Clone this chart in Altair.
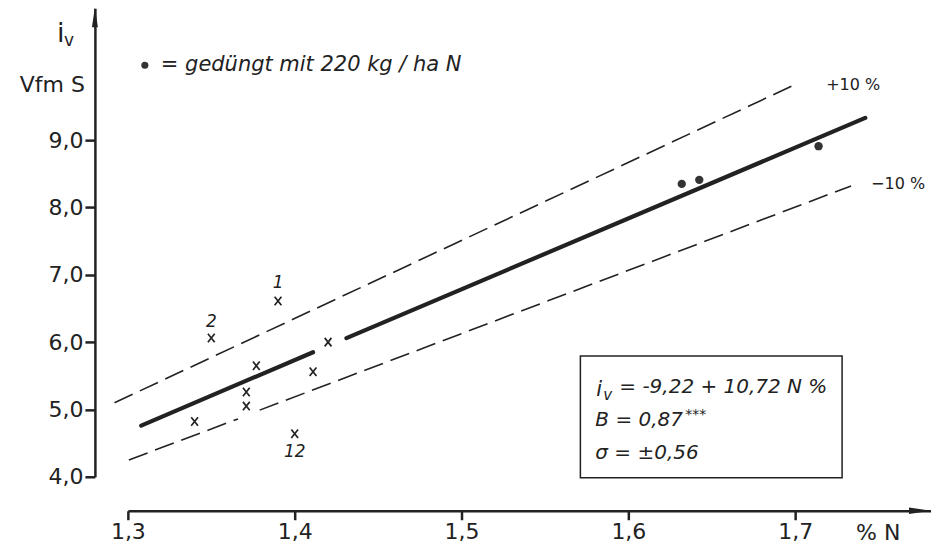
import altair as alt
import pandas as pd

# ---------------- data ----------------
cross_n = [1.340, 1.350, 1.371, 1.371, 1.377, 1.390, 1.400, 1.411, 1.420]
cross_iv = [4.82, 6.06, 5.05, 5.26, 5.65, 6.61, 4.64, 5.56, 6.00]

fert_n = [1.632, 1.6425, 1.714]
fert_iv = [8.35, 8.41, 8.91]

label_n = [1.350, 1.390, 1.400]
label_iv = [6.30, 6.88, 4.37]
label_text = ["2", "1", "12"]

reg_seg = ["a", "a", "b", "b"]
reg_n = [1.308, 1.411, 1.431, 1.742]
reg_iv = [4.76, 5.85, 6.06, 9.33]

band_seg = ["up", "up", "lo1", "lo1", "lo2", "lo2"]
band_n = [1.292, 1.702, 1.3006, 1.366, 1.379, 1.7335]
band_iv = [5.10, 9.85, 4.25, 4.86, 4.99, 8.32]

band_lbl_n = [1.7186, 1.7455]
band_lbl_iv = [9.82, 8.35]
band_lbl_text = ["+10 %", "\u221210 %"]

x_ticks = [1.3, 1.4, 1.5, 1.6, 1.7]
y_ticks = [4.0, 5.0, 6.0, 7.0, 8.0, 9.0]

# ---------------- layout constants ----------------
X_MIN, X_MAX = 1.3, 1.7814
Y_MIN, Y_MAX = 4.0, 10.958
W, H = 804, 469
INK = "#222222"
FONT = "DejaVu Sans"

crosses = pd.DataFrame({"n": cross_n, "iv": cross_iv})
fert = pd.DataFrame({"n": fert_n, "iv": fert_iv})
labels = pd.DataFrame({"n": label_n, "iv": label_iv, "t": label_text})
reg = pd.DataFrame({"seg": reg_seg, "n": reg_n, "iv": reg_iv})
band = pd.DataFrame({"seg": band_seg, "n": band_n, "iv": band_iv})
band_lbl = pd.DataFrame({"n": band_lbl_n, "iv": band_lbl_iv, "t": band_lbl_text})

fmt = "replace(format(datum.value, '.1f'), '.', ',')"
xs = alt.Scale(domain=[X_MIN, X_MAX], nice=False, zero=False)
ys = alt.Scale(domain=[Y_MIN, Y_MAX], nice=False, zero=False)

x_axis = alt.Axis(values=x_ticks, labelExpr=fmt, title=None, grid=False, offset=34,
                  domainWidth=2.5, domainColor=INK, tickWidth=2.5, tickColor=INK,
                  tickSize=9, labelFontSize=22, labelFont=FONT, labelColor=INK,
                  labelPadding=2, labelFlush=False)
y_axis = alt.Axis(values=y_ticks, labelExpr=fmt, title=None, grid=False, offset=33,
                  domainWidth=2.5, domainColor=INK, tickWidth=2.5, tickColor=INK,
                  tickSize=10, labelFontSize=22, labelFont=FONT, labelColor=INK,
                  labelPadding=2, labelFlush=False)


def X():
    return alt.X("n:Q", scale=xs, axis=x_axis)


def Y():
    return alt.Y("iv:Q", scale=ys, axis=y_axis)


one = alt.Data(values=[{}])


def txt(text, x, y, size, italic=False, align="left", baseline="middle"):
    return alt.Chart(one).mark_text(
        text=text, font=FONT, fontSize=size, color=INK, align=align, baseline=baseline,
        fontStyle="italic" if italic else "normal"
    ).encode(x=alt.value(x), y=alt.value(y))


x_shape = "M-0.8,-1L0.8,1M0.8,-1L-0.8,1"

band_layer = alt.Chart(band).mark_line(color=INK, strokeWidth=1.6, strokeDash=[20, 8]).encode(
    x=X(), y=Y(), detail="seg:N")
reg_layer = alt.Chart(reg).mark_line(color=INK, strokeWidth=4.2, strokeCap="round").encode(
    x=X(), y=Y(), detail="seg:N")
cross_layer = alt.Chart(crosses).mark_point(shape=x_shape, filled=False, size=72,
                                            strokeWidth=1.7, color=INK, opacity=1).encode(x=X(), y=Y())
fert_layer = alt.Chart(fert).mark_point(shape="circle", filled=True, size=70,
                                        color="#333333", opacity=1).encode(x=X(), y=Y())
label_layer = alt.Chart(labels).mark_text(font=FONT, fontSize=17, fontStyle="italic",
                                          color=INK).encode(x=X(), y=Y(), text="t:N")
band_lbl_layer = alt.Chart(band_lbl).mark_text(font=FONT, fontSize=16, color=INK,
                                               align="left").encode(x=X(), y=Y(), text="t:N")

# axis arrows
y_arrow = alt.Chart(one).mark_point(shape="M0,-1L0.3,1L-0.3,1Z", size=400, filled=True,
                                    color=INK, opacity=1).encode(x=alt.value(-33), y=alt.value(9))
x_arrow = alt.Chart(one).mark_point(shape="M1,0L-1,0.3L-1,-0.3Z", size=484, filled=True,
                                    color=INK, opacity=1).encode(x=alt.value(793), y=alt.value(503))

# equation box
box = alt.Chart(one).mark_rect(fillOpacity=0, stroke=INK, strokeWidth=1.5).encode(
    x=alt.value(453), x2=alt.value(715), y=alt.value(348), y2=alt.value(470))

layers = [
    band_layer, reg_layer, cross_layer, fert_layer, label_layer, band_lbl_layer,
    y_arrow, x_arrow, box,
    # y axis title
    txt("i", -71, 34, 27, baseline="alphabetic"),
    txt("v", -64, 38, 17, baseline="alphabetic"),
    txt("Vfm S", -43, 77, 22, align="right"),
    # x axis title
    txt("% N", 729, 525, 22),
    # legend line
    alt.Chart(one).mark_point(shape="circle", filled=True, size=50, color="#333333",
                              opacity=1).encode(x=alt.value(17), y=alt.value(57)),
    txt("=  gedüngt  mit  220 kg / ha  N", 33, 57, 21, italic=True),
    # equation text
    txt("i", 469, 388, 21, italic=True, baseline="alphabetic"),
    txt("v", 476, 392, 15, italic=True, baseline="alphabetic"),
    txt("=  -9,22 + 10,72  N %", 492, 379, 20, italic=True),
    txt("B  =  0,87", 468, 412, 20, italic=True),
    txt("***", 558, 407, 14, italic=True),
    txt("\u03c3  =  \u00b10,56", 468, 445, 20, italic=True),
]

chart = alt.layer(*layers).properties(
    width=W, height=H,
    background="white",
    autosize=alt.AutoSizeParams(type="none"),
    padding={"left": 120, "top": 0, "right": 0, "bottom": 67},
).configure_view(strokeWidth=0, stroke="transparent")

chart.save("out.html", embed_options={"renderer": "svg", "actions": False})
